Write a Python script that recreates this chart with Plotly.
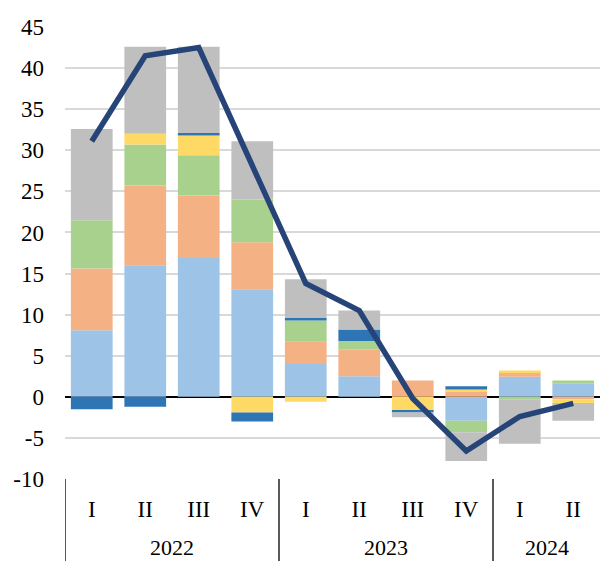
import plotly.graph_objects as go

quarters = ["I", "II", "III", "IV", "I", "II", "III", "IV", "I", "II"]
years = ["2022", "2023", "2024"]
year_centers = [1.5, 5.5, 8.5]
dividers = [-0.5, 3.5, 7.5]

s_lightblue = [8.1, 16.0, 16.9, 13.1, 4.0, 2.5, 0.0, -2.9, 2.45, 1.6]
s_salmon = [7.5, 9.7, 7.6, 5.7, 2.7, 3.3, 2.0, 0.7, 0.55, -0.3]
s_green = [5.9, 5.0, 4.9, 5.2, 2.6, 1.0, 0.0, -1.4, -0.3, 0.4]
s_yellow = [0.0, 1.3, 2.4, -1.9, -0.6, 0.0, -1.6, 0.2, 0.2, -0.45]
s_darkblue = [-1.5, -1.2, 0.3, -1.1, 0.3, 1.4, -0.3, 0.4, 0.0, 0.0]
s_gray = [11.1, 10.6, 10.5, 7.1, 4.7, 2.3, -0.6, -3.5, -5.4, -2.15]
s_line = [31.1, 41.5, 42.5, 28.3, 13.8, 10.5, -0.2, -6.6, -2.4, -0.8]

yticks = [-10, -5, 0, 5, 10, 15, 20, 25, 30, 35, 40, 45]
ytext = ["-10", "-5", "0", "5", "10", "15", "20", "25", "30", "35", "40", "45"]

x = list(range(len(quarters)))

series = [
    (s_lightblue, "#9DC3E6"),
    (s_salmon, "#F4B183"),
    (s_green, "#A9D18E"),
    (s_yellow, "#FFD966"),
    (s_darkblue, "#2E75B6"),
    (s_gray, "#BFBFBF"),
]

fig = go.Figure()
for vals, col in series:
    fig.add_trace(go.Bar(x=x, y=vals, marker=dict(color=col, line=dict(width=0)),
                         showlegend=False, hoverinfo="skip"))

fig.add_trace(go.Scatter(x=x, y=s_line, mode="lines",
                         line=dict(color="#264478", width=5.5), showlegend=False,
                         hoverinfo="skip"))

font_family = "Times New Roman"
fsize = 23

for xc, yr in zip(year_centers, years):
    fig.add_annotation(x=xc, xref="x", y=-0.151, yref="paper", text=yr,
                       showarrow=False, font=dict(family=font_family, size=22, color="#000000"),
                       xanchor="center", yanchor="middle")

for d in dividers:
    fig.add_shape(type="line", xref="x", yref="paper", x0=d, x1=d, y0=0, y1=-0.185,
                  line=dict(color="#000000", width=1.3))

fig.update_layout(
    width=600, height=561,
    margin=dict(l=65, r=0, t=27, b=82),
    barmode="relative",
    bargap=0.22,
    plot_bgcolor="#FFFFFF",
    paper_bgcolor="#FFFFFF",
    font=dict(family=font_family, size=fsize, color="#000000"),
)
fig.update_xaxes(
    tickmode="array", tickvals=x, ticktext=quarters,
    range=[-0.5, len(quarters) - 0.5],
    showgrid=False, zeroline=False, showline=False, ticks="",
    ticklabelstandoff=14, tickfont=dict(family=font_family, size=fsize),
)
fig.update_yaxes(
    range=[-10, 45], tickmode="array", tickvals=yticks, ticktext=ytext,
    showgrid=True, gridcolor="#D9D9D9", gridwidth=2,
    zeroline=True, zerolinecolor="#000000", zerolinewidth=2,
    showline=False, ticks="", ticklabelstandoff=20,
    tickfont=dict(family=font_family, size=fsize),
)

fig.write_html("out.html", config={"displayModeBar": False},
               post_script="document.body.style.margin='0';document.body.style.overflow='hidden';")
